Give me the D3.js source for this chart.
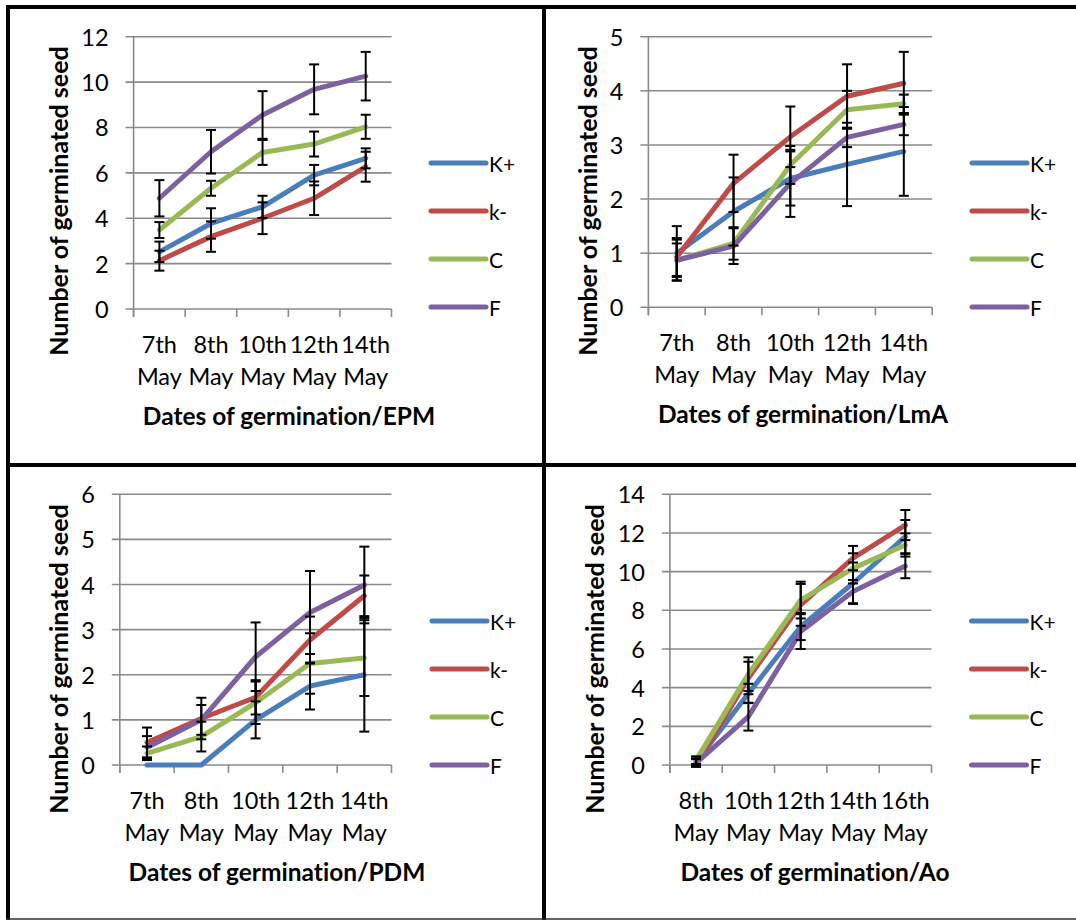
<!DOCTYPE html>
<html>
<head>
<meta charset="utf-8">
<script src="https://cdn.jsdelivr.net/npm/d3@7"></script>
<style>
  html, body { margin: 0; padding: 0; background: #fff; }
  svg { display: block; }
  text { font-family: Lato, "Open Sans", sans-serif; fill: #000; font-variant-ligatures: none; }
</style>
</head>
<body>
<script>
// Series shared by all four trials
const seriesNames = ["K+", "k-", "C", "F"];
const seriesColors = ["#4a7ebb", "#be4b48", "#98b954", "#7d60a0"];

// Dates of germination
const datesA = ["7th|May", "8th|May", "10th|May", "12th|May", "14th|May"];
const datesB = ["8th|May", "10th|May", "12th|May", "14th|May", "16th|May"];

// EPM: mean germinated seeds per series (K+, k-, C, F) and error amounts
const epmMeans = [
  [2.52, 3.77, 4.5, 5.9, 6.64],
  [2.13, 3.19, 4.0, 4.88, 6.27],
  [3.48, 5.32, 6.9, 7.27, 8.03],
  [4.88, 6.93, 8.55, 9.68, 10.26]
];
const epmErrors = [
  [0.45, 0.67, 0.49, 0.45, 0.44],
  [0.44, 0.67, 0.7, 0.74, 0.66],
  [0.35, 0.33, 0.55, 0.55, 0.53],
  [0.8, 0.96, 1.05, 1.1, 1.07]
];

// LmA
const lmaMeans = [
  [1.0, 1.77, 2.38, 2.64, 2.88],
  [0.93, 2.29, 3.15, 3.9, 4.14],
  [0.87, 1.18, 2.63, 3.65, 3.76],
  [0.87, 1.13, 2.29, 3.14, 3.38]
];
const lmaErrors = [
  [0.5, 0.63, 0.5, 0.77, 0.82],
  [0.35, 0.53, 0.56, 0.59, 0.58],
  [0.31, 0.3, 0.35, 0.35, 0.17],
  [0.38, 0.33, 0.62, 0.18, 0.2]
];

// PDM
const pdmMeans = [
  [0, 0, 1.0, 1.75, 2.0],
  [0.5, 1.03, 1.5, 2.77, 3.75],
  [0.26, 0.63, 1.38, 2.25, 2.37],
  [0.39, 1.0, 2.4, 3.38, 3.99]
];
const pdmErrors = [
  [0, 0, 0.41, 0.52, 1.26],
  [0.33, 0.46, 0.38, 0.52, 0.45],
  [0.15, 0.33, 0.47, 0.67, 0.84],
  [0.25, 0.33, 0.76, 0.92, 0.85]
];

// Ao
const aoMeans = [
  [0.15, 3.7, 7.16, 9.4, 11.81],
  [0, 4.5, 8.28, 10.7, 12.41],
  [0.25, 4.7, 8.53, 10.17, 11.38],
  [0.1, 2.5, 6.9, 8.97, 10.29]
];
const aoErrors = [
  [0.2, 0.5, 0.7, 1.07, 0.86],
  [0, 0.84, 1.08, 0.63, 0.78],
  [0.2, 0.87, 0.95, 0.78, 0.6],
  [0.2, 0.72, 0.9, 0.6, 0.63]
];

// Y axis tick values
const ticksEPM = [0, 2, 4, 6, 8, 10, 12];
const ticksLmA = [0, 1, 2, 3, 4, 5];
const ticksPDM = [0, 1, 2, 3, 4, 5, 6];
const ticksAo = [0, 2, 4, 6, 8, 10, 12, 14];

const yTitle = "Number of germinated seed";

const W = 1076, H = 920;
const svg = d3.select("body").append("svg").attr("width", W).attr("height", H);

// Frame around the four panels
const frame = svg.append("g");
frame.append("line").attr("x1", 6).attr("x2", W).attr("y1", 7).attr("y2", 7)
  .attr("stroke", "#000").attr("stroke-width", 4);
frame.append("line").attr("x1", 8).attr("x2", 8).attr("y1", 5).attr("y2", H)
  .attr("stroke", "#000").attr("stroke-width", 4);
frame.append("line").attr("x1", 544).attr("x2", 544).attr("y1", 5).attr("y2", H)
  .attr("stroke", "#000").attr("stroke-width", 4);
frame.append("line").attr("x1", 6).attr("x2", W).attr("y1", 465).attr("y2", 465)
  .attr("stroke", "#000").attr("stroke-width", 4);
frame.append("line").attr("x1", 6).attr("x2", W).attr("y1", 919).attr("y2", 919)
  .attr("stroke", "#333").attr("stroke-width", 1.5);

const panels = [
  { means: epmMeans, errors: epmErrors, cats: datesA, ticks: ticksEPM, title: "Dates of germination/EPM",
    left: 133.6, right: 391.5, top: 36.7, bottom: 309, yTitleX: 58, yTitleY: 201, legendX: 431, legendY: 163,
    titleX: 289, titleY: 425 },
  { means: lmaMeans, errors: lmaErrors, cats: datesA, ticks: ticksLmA, title: "Dates of germination/LmA",
    left: 648.4, right: 932.2, top: 36.7, bottom: 307.3, yTitleX: 587, yTitleY: 201, legendX: 972, legendY: 163,
    titleX: 803, titleY: 423 },
  { means: pdmMeans, errors: pdmErrors, cats: datesA, ticks: ticksPDM, title: "Dates of germination/PDM",
    left: 119.8, right: 391.5, top: 494.3, bottom: 765, yTitleX: 58, yTitleY: 659, legendX: 432, legendY: 621,
    titleX: 277, titleY: 881 },
  { means: aoMeans, errors: aoErrors, cats: datesB, ticks: ticksAo, title: "Dates of germination/Ao",
    left: 669.9, right: 931.5, top: 494.3, bottom: 765, yTitleX: 594, yTitleY: 659, legendX: 971.5, legendY: 621,
    titleX: 815, titleY: 881 }
];

const gridColor = "#8a8a8a";

panels.forEach(p => {
  const g = svg.append("g");
  const x = d3.scaleBand().domain(p.cats).range([p.left, p.right]).padding(0);
  const y = d3.scaleLinear().domain([0, d3.max(p.ticks)]).range([p.bottom, p.top]);

  // horizontal gridlines with outward tick marks
  g.append("g").selectAll("line").data(p.ticks).join("line")
    .attr("x1", p.left - 8).attr("x2", p.right)
    .attr("y1", d => y(d)).attr("y2", d => y(d))
    .attr("stroke", gridColor).attr("stroke-width", 1.6);

  // y tick labels
  g.append("g").selectAll("text").data(p.ticks).join("text")
    .attr("x", p.left - 25).attr("y", d => y(d))
    .attr("text-anchor", "end").attr("dominant-baseline", "central")
    .attr("font-size", 23.5).text(d => d);

  // y axis line
  g.append("line").attr("x1", p.left).attr("x2", p.left)
    .attr("y1", p.top).attr("y2", p.bottom + 8)
    .attr("stroke", gridColor).attr("stroke-width", 1.6);

  // x tick marks at category boundaries
  const edges = p.cats.map(c => x(c)).concat([x(p.cats[p.cats.length - 1]) + x.bandwidth()]);
  g.append("g").selectAll("line").data(edges).join("line")
    .attr("x1", d => d).attr("x2", d => d)
    .attr("y1", p.bottom).attr("y2", p.bottom + 8)
    .attr("stroke", gridColor).attr("stroke-width", 1.6);

  // category labels, two lines each
  const cl = g.append("g").selectAll("text").data(p.cats).join("text")
    .attr("x", d => x(d) + x.bandwidth() / 2)
    .attr("text-anchor", "middle").attr("font-size", 23.5);
  cl.append("tspan").attr("x", d => x(d) + x.bandwidth() / 2).attr("y", p.bottom + 44)
    .text(d => d.split("|")[0]);
  cl.append("tspan").attr("x", d => x(d) + x.bandwidth() / 2).attr("y", p.bottom + 76)
    .text(d => d.split("|")[1]);

  // lines
  const line = d3.line().x((d, i) => x(p.cats[i]) + x.bandwidth() / 2).y(d => y(d));
  g.append("g").selectAll("path").data(p.means).join("path")
    .attr("d", d => line(d))
    .attr("fill", "none")
    .attr("stroke", (d, i) => seriesColors[i])
    .attr("stroke-width", 5)
    .attr("stroke-linejoin", "round")
    .attr("stroke-linecap", "round");

  // error bars
  const bars = [];
  p.means.forEach((s, si) => s.forEach((v, ci) => {
    const e = p.errors[si][ci];
    if (e > 0) bars.push({ c: p.cats[ci], v, e });
  }));
  const eb = g.append("g").attr("stroke", "#000").attr("stroke-width", 2);
  bars.forEach(b => {
    const cx = x(b.c) + x.bandwidth() / 2;
    eb.append("line").attr("x1", cx).attr("x2", cx).attr("y1", y(b.v + b.e)).attr("y2", y(b.v - b.e));
    eb.append("line").attr("x1", cx - 5).attr("x2", cx + 5).attr("y1", y(b.v + b.e)).attr("y2", y(b.v + b.e));
    eb.append("line").attr("x1", cx - 5).attr("x2", cx + 5).attr("y1", y(b.v - b.e)).attr("y2", y(b.v - b.e));
  });

  // y axis title
  g.append("text")
    .attr("transform", `translate(${p.yTitleX},${p.yTitleY}) rotate(-90)`)
    .attr("text-anchor", "middle").attr("dominant-baseline", "central")
    .attr("font-size", 25).attr("font-weight", "bold").text(yTitle);

  // x axis title
  g.append("text")
    .attr("x", p.titleX).attr("y", p.titleY)
    .attr("text-anchor", "middle")
    .attr("font-size", 24.5).attr("font-weight", "bold").text(p.title);

  // legend
  const lg = g.append("g").selectAll("g").data(seriesNames).join("g")
    .attr("transform", (d, i) => `translate(${p.legendX},${p.legendY + i * 48})`);
  lg.append("line").attr("x1", 0).attr("x2", 55).attr("y1", 0).attr("y2", 0)
    .attr("stroke", (d, i) => seriesColors[i]).attr("stroke-width", 5).attr("stroke-linecap", "round");
  lg.append("text").attr("x", 58).attr("y", 0).attr("dominant-baseline", "central")
    .attr("font-size", 21).text(d => d);
});
</script>
</body>
</html>
